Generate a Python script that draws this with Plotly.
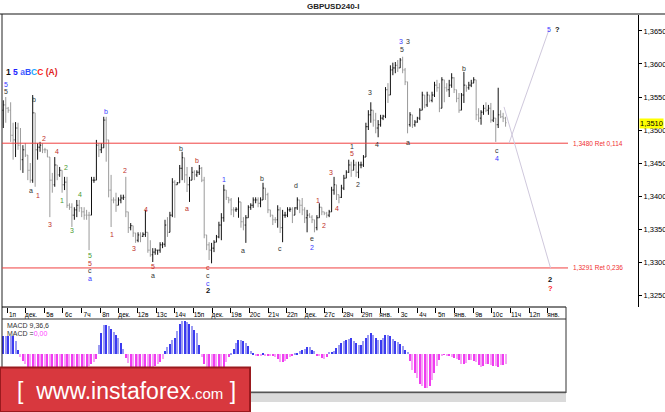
import plotly.graph_objects as go

# ---------------- data ----------------
highs = [
1.3545,1.3550,1.3535,1.3542,1.3511,1.3512,1.3511,1.3503,1.3477,1.3480,
1.3462,1.3450,1.3553,1.3526,1.3480,1.3482,1.3480,1.3473,1.3470,1.3459,
1.3435,1.3459,1.3447,1.3444,1.3439,1.3429,1.3429,1.3389,1.3389,1.3383,
1.3394,1.3394,1.3383,1.3383,1.3379,1.3376,1.3429,1.3429,1.3485,1.3480,
1.3480,1.3520,1.3520,1.3485,1.3432,1.3398,1.3405,1.3398,1.3402,1.3402,
1.3429,1.3376,1.3359,1.3355,1.3344,1.3345,1.3345,1.3345,1.3379,1.3345,
1.3333,1.3321,1.3321,1.3318,1.3330,1.3330,1.3364,1.3368,1.3376,1.3427,
1.3424,1.3421,1.3447,1.3467,1.3458,1.3444,1.3429,1.3444,1.3439,1.3439,
1.3447,1.3444,1.3429,1.3341,1.3330,1.3329,1.3333,1.3341,1.3361,1.3374,
1.3417,1.3409,1.3398,1.3397,1.3383,1.3383,1.3398,1.3391,1.3368,1.3371,
1.3386,1.3389,1.3398,1.3398,1.3398,1.3398,1.3420,1.3412,1.3405,1.3379,
1.3371,1.3368,1.3386,1.3383,1.3379,1.3376,1.3383,1.3383,1.3383,1.3383,
1.3398,1.3394,1.3397,1.3383,1.3379,1.3374,1.3371,1.3364,1.3371,1.3389,
1.3383,1.3376,1.3376,1.3379,1.3414,1.3429,1.3417,1.3402,1.3417,1.3432,
1.3439,1.3455,1.3452,1.3455,1.3452,1.3452,1.3452,1.3462,1.3511,1.3530,
1.3542,1.3530,1.3526,1.3515,1.3523,1.3523,1.3565,1.3571,1.3598,1.3602,
1.3603,1.3606,1.3609,1.3611,1.3594,1.3573,1.3527,1.3523,1.3515,1.3520,
1.3533,1.3558,1.3553,1.3558,1.3553,1.3558,1.3573,1.3576,1.3571,1.3580,
1.3576,1.3571,1.3576,1.3586,1.3580,1.3561,1.3556,1.3556,1.3588,1.3568,
1.3573,1.3576,1.3580,1.3576,1.3533,1.3530,1.3538,1.3542,1.3538,1.3541,
1.3530,1.3518,1.3564,1.3530,1.3526,1.3520]

lows = [
1.3503,1.3511,1.3526,1.3482,1.3455,1.3459,1.3470,1.3439,1.3435,1.3459,
1.3424,1.3420,1.3420,1.3414,1.3455,1.3467,1.3465,1.3465,1.3459,1.3368,
1.3405,1.3414,1.3424,1.3429,1.3405,1.3409,1.3382,1.3379,1.3353,1.3364,
1.3368,1.3376,1.3368,1.3364,1.3364,1.3318,1.3371,1.3420,1.3424,1.3459,
1.3465,1.3473,1.3452,1.3398,1.3353,1.3389,1.3376,1.3386,1.3389,1.3394,
1.3368,1.3344,1.3348,1.3338,1.3329,1.3330,1.3330,1.3338,1.3338,1.3314,
1.3308,1.3300,1.3311,1.3311,1.3314,1.3321,1.3323,1.3338,1.3345,1.3368,
1.3367,1.3417,1.3420,1.3424,1.3420,1.3406,1.3391,1.3424,1.3424,1.3429,
1.3432,1.3421,1.3336,1.3318,1.3303,1.3298,1.3315,1.3330,1.3336,1.3333,
1.3361,1.3394,1.3389,1.3371,1.3368,1.3376,1.3367,1.3352,1.3348,1.3329,
1.3367,1.3379,1.3382,1.3389,1.3383,1.3383,1.3394,1.3394,1.3374,1.3368,
1.3356,1.3359,1.3352,1.3344,1.3330,1.3367,1.3368,1.3376,1.3359,1.3371,
1.3379,1.3374,1.3371,1.3359,1.3345,1.3367,1.3359,1.3345,1.3348,1.3367,
1.3371,1.3371,1.3367,1.3368,1.3376,1.3402,1.3394,1.3389,1.3397,1.3409,
1.3427,1.3435,1.3429,1.3439,1.3429,1.3427,1.3442,1.3444,1.3459,1.3500,
1.3511,1.3505,1.3495,1.3489,1.3505,1.3515,1.3518,1.3541,1.3553,1.3583,
1.3586,1.3588,1.3594,1.3586,1.3568,1.3495,1.3505,1.3503,1.3505,1.3511,
1.3515,1.3530,1.3533,1.3535,1.3542,1.3542,1.3550,1.3558,1.3527,1.3533,
1.3542,1.3558,1.3550,1.3564,1.3556,1.3542,1.3526,1.3530,1.3541,1.3558,
1.3561,1.3565,1.3571,1.3515,1.3512,1.3508,1.3523,1.3527,1.3523,1.3511,
1.3512,1.3482,1.3503,1.3518,1.3512,1.3505]

closes = [
1.3538,1.3533,1.3530,1.3492,1.3485,1.3503,1.3477,1.3455,1.3470,1.3462,
1.3439,1.3424,1.3526,1.3470,1.3474,1.3477,1.3470,1.3470,1.3459,1.3424,
1.3417,1.3447,1.3432,1.3439,1.3417,1.3421,1.3386,1.3383,1.3371,1.3379,
1.3386,1.3382,1.3376,1.3371,1.3371,1.3371,1.3424,1.3424,1.3477,1.3470,
1.3473,1.3515,1.3485,1.3409,1.3394,1.3394,1.3386,1.3394,1.3397,1.3398,
1.3376,1.3352,1.3355,1.3344,1.3333,1.3341,1.3339,1.3342,1.3345,1.3318,
1.3311,1.3315,1.3318,1.3318,1.3326,1.3327,1.3356,1.3345,1.3371,1.3421,
1.3417,1.3420,1.3442,1.3458,1.3432,1.3417,1.3424,1.3436,1.3432,1.3436,
1.3442,1.3424,1.3341,1.3326,1.3318,1.3321,1.3330,1.3338,1.3356,1.3367,
1.3409,1.3398,1.3394,1.3379,1.3379,1.3380,1.3391,1.3361,1.3356,1.3367,
1.3383,1.3386,1.3394,1.3394,1.3389,1.3394,1.3412,1.3402,1.3379,1.3371,
1.3364,1.3364,1.3379,1.3352,1.3371,1.3371,1.3379,1.3380,1.3371,1.3382,
1.3394,1.3386,1.3379,1.3367,1.3371,1.3368,1.3364,1.3352,1.3367,1.3383,
1.3376,1.3374,1.3371,1.3376,1.3409,1.3417,1.3402,1.3398,1.3412,1.3427,
1.3436,1.3447,1.3439,1.3447,1.3436,1.3447,1.3447,1.3459,1.3505,1.3523,
1.3530,1.3515,1.3503,1.3508,1.3518,1.3521,1.3561,1.3553,1.3591,1.3594,
1.3598,1.3594,1.3606,1.3591,1.3573,1.3508,1.3523,1.3508,1.3512,1.3518,
1.3530,1.3553,1.3538,1.3553,1.3545,1.3553,1.3568,1.3564,1.3533,1.3576,
1.3564,1.3561,1.3568,1.3579,1.3561,1.3548,1.3530,1.3553,1.3568,1.3564,
1.3568,1.3571,1.3576,1.3523,1.3518,1.3527,1.3533,1.3530,1.3533,1.3515,
1.3518,1.3508,1.3523,1.3520,1.3518,1.3511]
first_open = 1.3530

# MACD histogram (in pips)
macd = [
18,18,18,18,18,13,4,-3,-7,-10,
-13,-16,-18,-20,-21,-22,-23,-24,-24,-24,
-23,-23,-22,-22,-21,-21,-20,-20,-19,-18,
-17,-16,-15,-14,-13,-12,-10,-8,-5,9,
21,29,29,28,25,22,19,16,11,5,
-4,-9,-13,-16,-18,-19,-20,-20,-19,-18,
-16,-14,-12,-10,-8,-5,3,7,10,14,
16,23,30,33,33,32,30,28,24,21,
9,-3,-10,-16,-20,-22,-23,-22,-20,-17,
-13,-8,-3,1,5,11,14,14,13,11,
8,3,1,-1,-1,-1,1,-1,-2,-2,
-2,-3,-5,-8,-8,-7,-5,-3,-1,0.5,
1,3,4,5,7,7,4,3,-1,-2,
-4,-5,-3,2,2,3,6,9,11,13,
14,15,16,13,11,9,9,13,16,19,
21,19,16,14,14,16,19,19,18,15,
13,12,10,8,4,2,-7,-16,-19,-24,
-30,-32,-34,-34,-32,-26,-19,-12,-6,-1,
-0.5,-1,-2,-3,-4,-5,-6,-10,-10,-9,
-6,-6,-7,-8,-11,-13,-12,-10,-10,-11,
-12,-12,-13,-11,-11,-10]

date_labels = ["1п","дек.","5в","6с","7ч","8п","дек.","12в","13с","14ч","15п",
               "дек.","19в","20с","21ч","22п","дек.","27с","28ч","29п","янв.",
               "3с","4ч","5п","янв.","9в","10с","11ч","12п","янв."]
price_ticks = [1.3250,1.3300,1.3350,1.3400,1.3450,1.3500,1.3550,1.3600,1.3650]
levels = [(1.3480, "1,3480 Ret 0,114"), (1.3291, "1,3291 Ret 0,236")]
last_price = 1.3510

# ---------------- geometry ----------------
W, H = 665, 412
n = len(closes)
idx = list(range(n))
opens = [first_open] + closes[:-1]
hi = [max(h, o, c) for h, o, c in zip(highs, opens, closes)]
lo = [min(l, o, c) for l, o, c in zip(lows, opens, closes)]

X0, X1 = -0.53, 259.06          # main x range (pixel 2 -> 638)
X1m = 229.67                    # macd x range end (pixel 566)
px_per_bar = (638 - 2) / (X1 - X0)

def xi(px):
    return X0 + (px - 2) / px_per_bar

def fy(py):
    return (H - py) / H

def fx(px):
    return px / W

fig = go.Figure()
fig.add_trace(go.Ohlc(
    x=idx, open=opens, high=hi, low=lo, close=closes,
    increasing=dict(line=dict(color="#111111", width=1)),
    decreasing=dict(line=dict(color="#9a9a9a", width=1)),
    tickwidth=0.4, xaxis="x", yaxis="y", hoverinfo="skip", showlegend=False))

mcol = []
for i, v in enumerate(macd):
    if v >= 0:
        mcol.append("#3a3af0" if i % 2 == 0 else "#9c9cf2")
    else:
        mcol.append("#f03cf0" if i % 2 == 0 else "#f6a2f6")
fig.add_trace(go.Bar(x=idx, y=macd, marker=dict(color=mcol, line=dict(width=0)),
                     width=0.45, xaxis="x2", yaxis="y2", showlegend=False,
                     hoverinfo="skip"))

tick_pos = [xi(7 + 18.65 * k) for k in range(len(date_labels))]
lab_pos = [xi(12.5 + 18.65 * k) for k in range(len(date_labels))]

ylo = 1.35 - 177 * 0.0001515
yhi = 1.35 + 116 * 0.0001515

fnt = "Liberation Sans, Arial, sans-serif"
fig.update_layout(
    width=W, height=H, margin=dict(l=0, r=0, t=0, b=0, autoexpand=False),
    paper_bgcolor="white", plot_bgcolor="white", bargap=0,
    xaxis=dict(domain=[fx(2), fx(638)], range=[X0, X1], showgrid=False,
               zeroline=False, showticklabels=False, ticks="outside",
               tickvals=tick_pos, ticklen=5, tickcolor="#000", tickwidth=1,
               rangeslider=dict(visible=False), fixedrange=True),
    yaxis=dict(domain=[fy(307), fy(14)], range=[ylo, yhi], side="right",
               showgrid=False, zeroline=False, tickvals=price_ticks,
               ticktext=[f"{p:.4f}".replace(".", ",") for p in price_ticks],
               ticks="outside", ticklen=3, tickcolor="#000",
               tickfont=dict(family=fnt, size=7.5, color="#000"),
               showline=True, linecolor="#000", linewidth=1),
    xaxis2=dict(domain=[fx(2), fx(566)], range=[X0, X1m], anchor="y2",
                side="top", showgrid=False, zeroline=False,
                tickvals=lab_pos, ticktext=date_labels, ticks="",
                tickfont=dict(family=fnt, size=6.5, color="#000"),
                fixedrange=True),
    yaxis2=dict(domain=[fy(392), fy(319)], range=[-37.7, 35.3],
                showgrid=False, zeroline=False, showticklabels=False),
)

shapes = []
def pline(x0, y0, x1, y1, color="#000", w=1):
    shapes.append(dict(type="line", xref="paper", yref="paper",
                       x0=fx(x0), y0=fy(y0), x1=fx(x1), y1=fy(y1),
                       line=dict(color=color, width=w), layer="above"))

# frame lines
pline(0, 14, 665, 14, "#8a8a8a", 2)
pline(2, 14, 2, 393, "#222", 1)
pline(2, 307, 566, 307, "#000", 1)
pline(2, 319, 566, 319, "#333", 1)
pline(566, 307, 566, 393, "#333", 1)
pline(2, 392.5, 566, 392.5, "#555", 2)
shapes.append(dict(type="rect", xref="paper", yref="paper", x0=fx(250), x1=fx(566),
                   y0=fy(402), y1=fy(393.5), fillcolor="#dadada",
                   line=dict(width=0), layer="above"))

# retracement levels
for p, t in levels:
    shapes.append(dict(type="line", xref="x", yref="y", x0=X0, x1=xi(568),
                       y0=p, y1=p, line=dict(color="#f04040", width=1)))
# projection lines
shapes.append(dict(type="line", xref="x", yref="y", x0=xi(504), y0=1.3535,
                   x1=xi(550.5), y1=1.3291, line=dict(color="#cfc8dc", width=1)))
shapes.append(dict(type="line", xref="x", yref="y", x0=xi(509), y0=1.3480,
                   x1=xi(549), y1=1.3652, line=dict(color="#cfc8dc", width=1)))

# watermark box
shapes.append(dict(type="rect", xref="paper", yref="paper", x0=0, x1=fx(250),
                   y0=0, y1=fy(367.5), fillcolor="#d8383e",
                   line=dict(color="#9a1a1e", width=2), layer="above"))
fig.update_layout(shapes=shapes)

ann = []
def lab(px, py, t, c, size=7, bold=False):
    txt = f"<b>{t}</b>" if bold else t
    ann.append(dict(x=xi(px), y=1.35 + (130 - py) * 0.0001515, xref="x", yref="y",
                    text=txt, showarrow=False, xanchor="center", yanchor="middle",
                    borderpad=0,
                    font=dict(family=fnt, size=size, color=c)))

DK, RD, BL, GR = "#333333", "#c0302a", "#3838ff", "#4a9a30"
wave = [
    (6, 84, "5", BL), (6, 91, "5", DK), (34, 99, "b", DK), (44, 138, "2", RD),
    (57, 151, "4", RD), (31, 190, "a", DK), (38, 195, "1", RD), (50, 224, "3", RD),
    (66, 167, "2", GR), (62, 200, "1", GR), (72, 230, "3", GR), (80, 194, "4", GR),
    (90, 255, "5", GR), (90, 263, "5", RD), (90, 270, "c", DK), (90, 278, "a", BL),
    (106, 111, "b", BL), (125, 170, "2", RD), (112, 234, "1", RD), (134, 248, "3", RD),
    (146, 209, "4", RD), (153, 266, "5", RD), (153, 275, "a", DK),
    (181, 148, "b", DK), (187, 208, "a", RD), (197, 160, "b", RD),
    (208, 267, "c", RD), (208, 275, "c", DK), (208, 283, "c", BL),
    (224, 179, "1", BL), (243, 250, "a", DK), (262, 178, "b", DK), (280, 248, "c", DK),
    (296, 185, "d", DK), (312, 238, "e", DK), (312, 247, "2", BL),
    (318, 200, "1", RD), (324, 225, "2", RD), (331, 172, "3", RD), (337, 208, "4", RD),
    (352, 146, "1", DK), (352, 153, "5", RD), (358, 184, "2", DK),
    (370, 92, "3", DK), (377, 144, "4", DK), (402, 50, "5", DK),
    (401, 42, "3", BL), (408, 42, "3", DK), (408, 142, "a", DK), (464, 68, "b", DK),
    (497, 150, "c", DK), (497, 158, "4", BL), (549, 30, "5", BL),
]
for px, py, t, c in wave:
    lab(px, py, t, c)
lab(208, 290, "2", "#111", 7.5, True)
lab(557, 30, "?", "#111", 7.5, True)
lab(550, 279, "2", "#111", 7.5, True)
lab(550, 288, "?", "#ff2020", 7.5, True)

for p, t in levels:
    ann.append(dict(x=xi(571), y=p, xref="x", yref="y", text=t, showarrow=False,
                    xanchor="left", yanchor="middle",
                    font=dict(family=fnt, size=6.5, color="#f03030")))

# current price tag
ann.append(dict(x=fx(639), y=last_price, xref="paper", yref="y",
                text="1,3510", showarrow=False, xanchor="left", yanchor="middle",
                bgcolor="#ffff00", borderpad=0,
                font=dict(family=fnt, size=7.5, color="#000")))

# title
ann.append(dict(x=fx(333), y=fy(6.5), xref="paper", yref="paper",
                text="<b>GBPUSD240-I</b>", showarrow=False, yanchor="middle",
                font=dict(family=fnt, size=8, color="#222")))

# wave legend
ann.append(dict(x=fx(4), y=fy(72), xref="paper", yref="paper", xanchor="left",
                yanchor="middle",
                text=("<b><span style='color:#111'>1</span> "
                      "<span style='color:#2020ff'>5</span> "
                      "<span style='color:#4a62ff'>a</span>"
                      "<span style='color:#3050ff'>B</span>"
                      "<span style='color:#22a6ff'>C</span>"
                      "<span style='color:#ff2020'>C</span> "
                      "<span style='color:#e02020'>(A)</span></b>"),
                showarrow=False, font=dict(family=fnt, size=8.5, color="#000")))

# MACD texts
ann.append(dict(x=fx(5), y=fy(325.5), xref="paper", yref="paper", xanchor="left",
                yanchor="middle", text="MACD 9,36,6", showarrow=False,
                font=dict(family=fnt, size=7, color="#333")))
ann.append(dict(x=fx(5), y=fy(333), xref="paper", yref="paper", xanchor="left",
                yanchor="middle",
                text="MACD =<span style='color:#ff40ff'>0,00</span>", showarrow=False,
                font=dict(family=fnt, size=7, color="#333")))

# watermark text
ann.append(dict(x=fx(126), y=fy(391), xref="paper", yref="paper",
                text=("[&nbsp;&nbsp;www.instaforex"
                      "<span style='font-size:15px'>.com</span>&nbsp;]"),
                showarrow=False, xanchor="center", yanchor="middle",
                font=dict(family=fnt, size=23, color="white")))

fig.update_layout(annotations=ann)
fig.write_html("out.html", config={"displayModeBar": False},
               post_script="document.body.style.margin='0px';document.body.style.padding='0px';")
